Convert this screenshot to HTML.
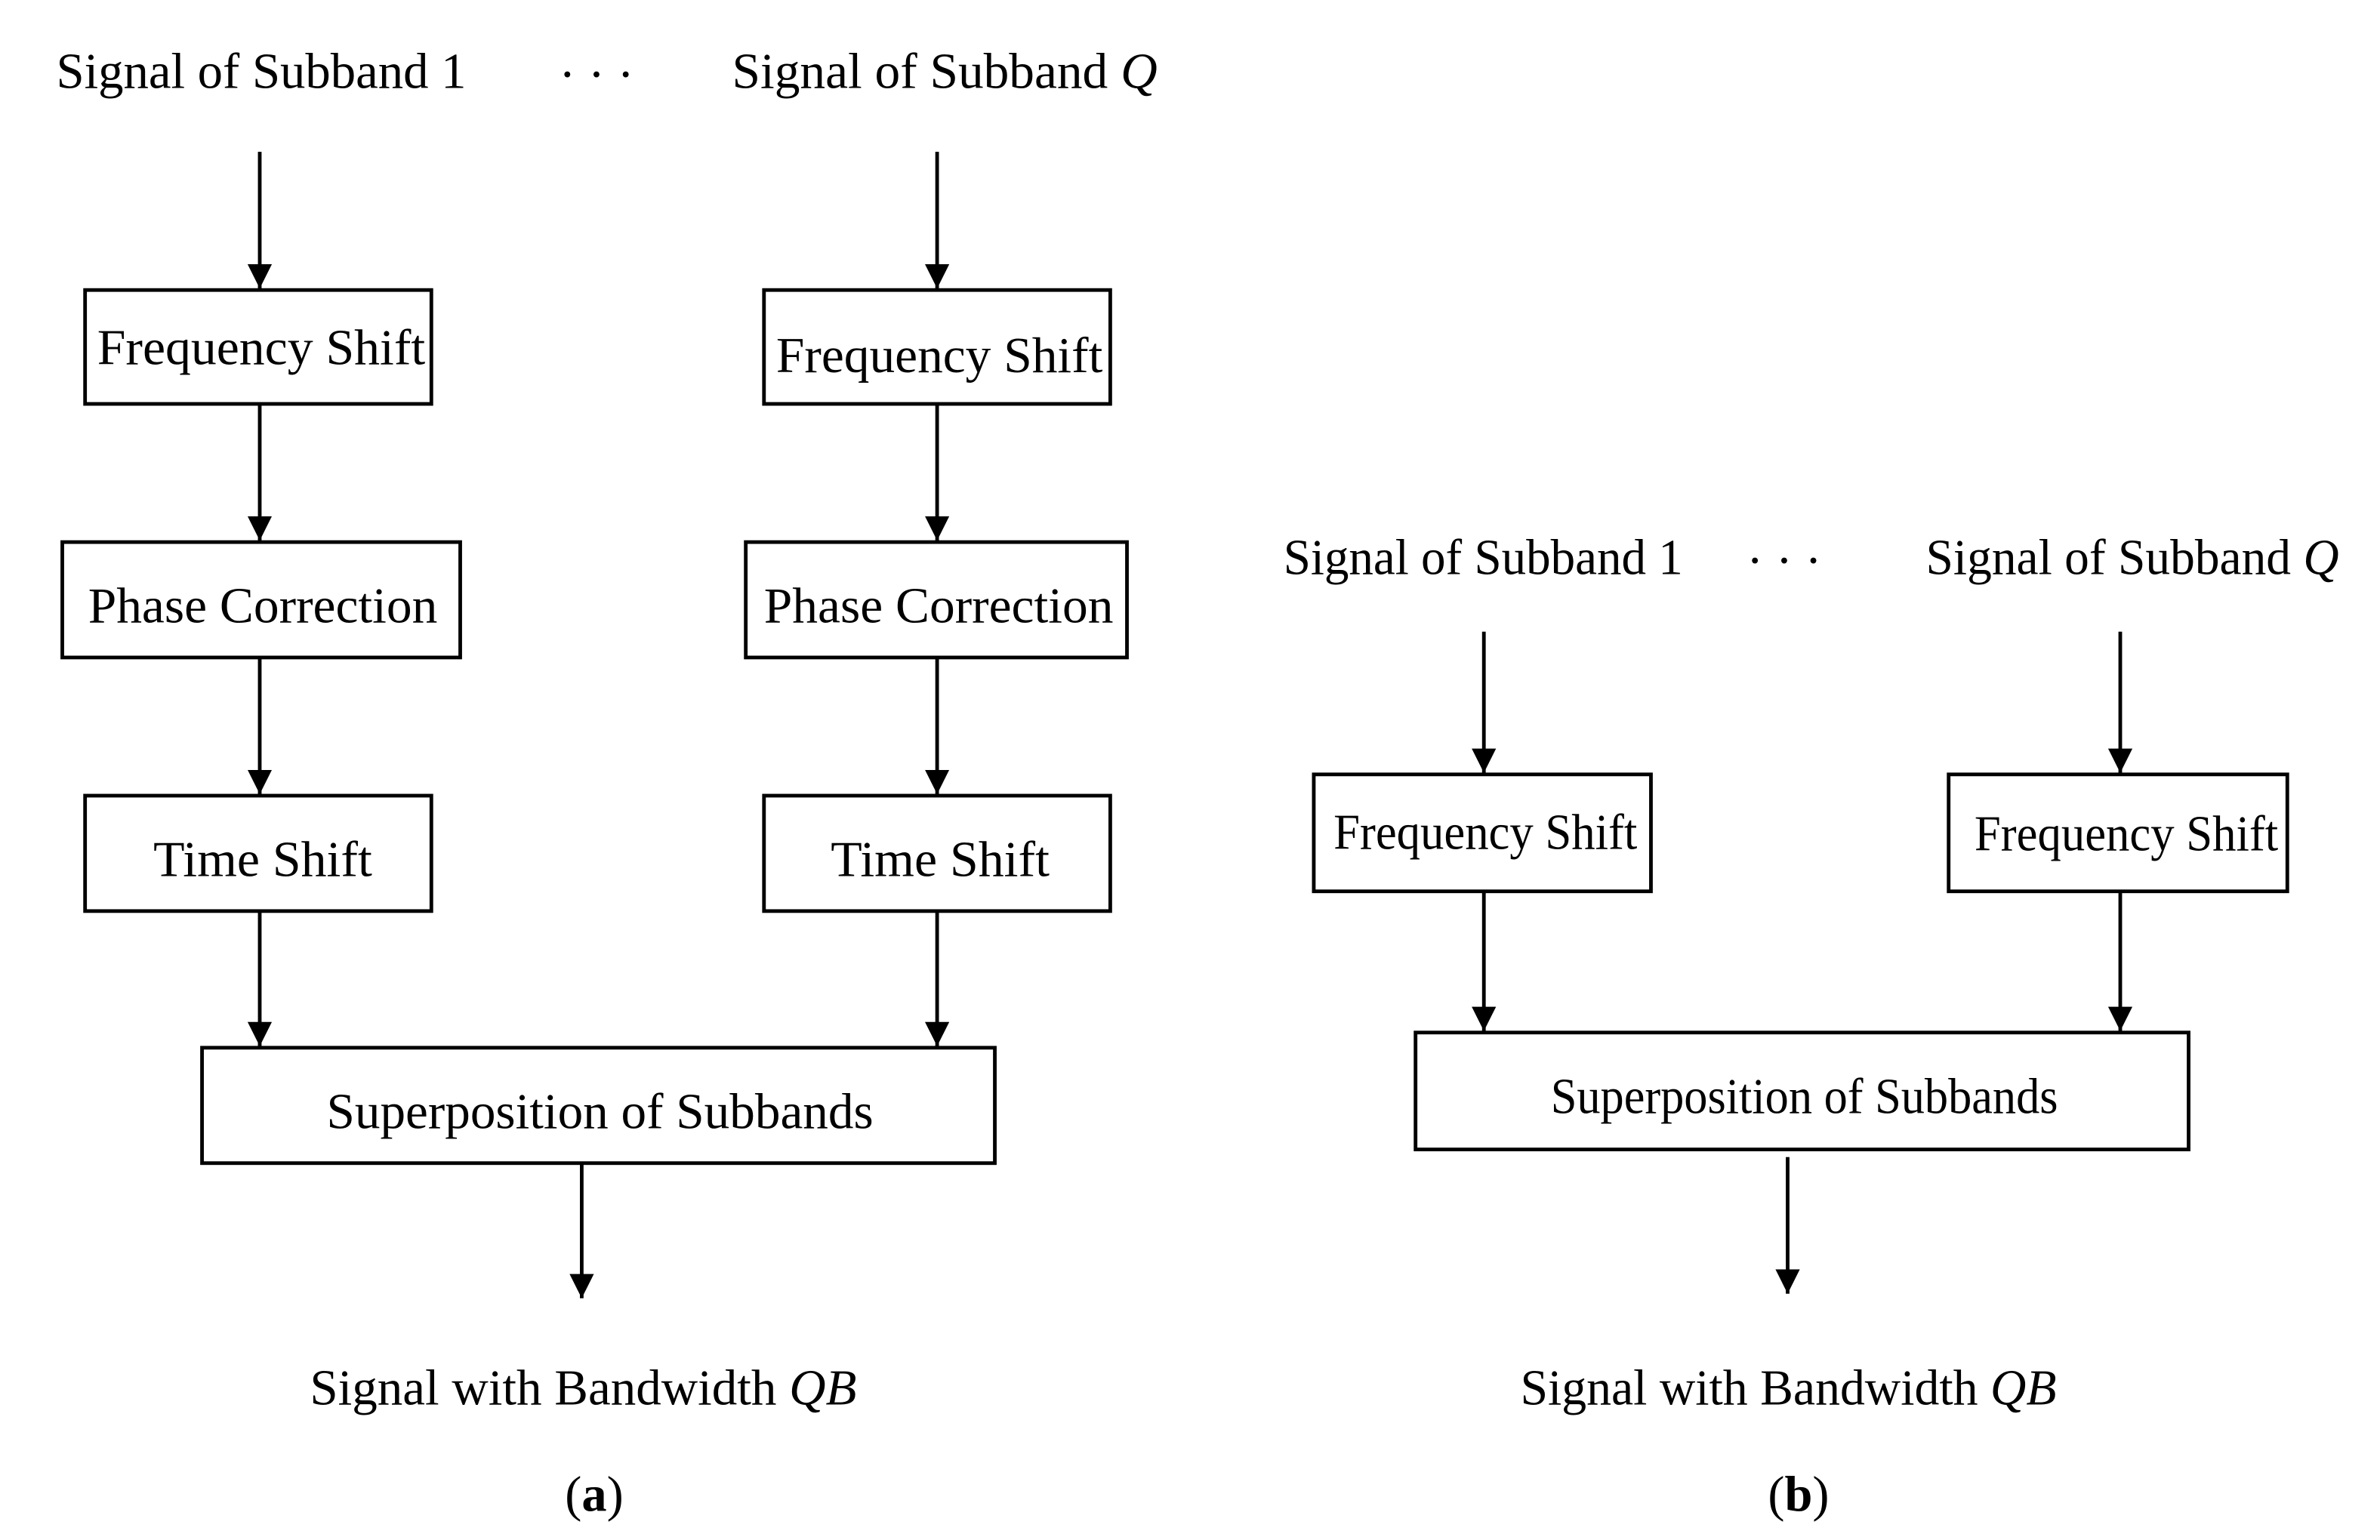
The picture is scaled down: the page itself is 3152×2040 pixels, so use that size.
<!DOCTYPE html>
<html><head><meta charset="utf-8"><style>
html,body{margin:0;padding:0;background:#fff;}
svg{display:block;}
text{font-family:"Liberation Serif",serif;font-size:33px;fill:#000;}
</style></head><body>
<svg width="3152" height="2040" viewBox="0 0 1567 1014.2" xmlns="http://www.w3.org/2000/svg">
<defs><marker id="a" markerWidth="16" markerHeight="18" refX="16" refY="8" orient="auto" markerUnits="userSpaceOnUse">
<path d="M0,0 L16,8 L0,16 Z" fill="#000"/></marker></defs>
<g stroke="#000" stroke-width="2.4" fill="none">
<rect x="56" y="191" width="228" height="75"/>
<rect x="503" y="191" width="228" height="75"/>
<rect x="41" y="357" width="262" height="76"/>
<rect x="491" y="357" width="251" height="76"/>
<rect x="56" y="524" width="228" height="76"/>
<rect x="503" y="524" width="228" height="76"/>
<rect x="133" y="690" width="522" height="76"/>
<g marker-end="url(#a)">
<line x1="171" y1="100" x2="171" y2="190"/>
<line x1="617" y1="100" x2="617" y2="190"/>
<line x1="171" y1="266" x2="171" y2="356"/>
<line x1="617" y1="266" x2="617" y2="356"/>
<line x1="171" y1="433" x2="171" y2="523"/>
<line x1="617" y1="433" x2="617" y2="523"/>
<line x1="171" y1="600" x2="171" y2="689"/>
<line x1="617" y1="600" x2="617" y2="689"/>
<line x1="383" y1="766" x2="383" y2="855"/>
<line x1="977" y1="416" x2="977" y2="509"/>
<line x1="1396" y1="416" x2="1396" y2="509"/>
<line x1="977" y1="587" x2="977" y2="679"/>
<line x1="1396" y1="587" x2="1396" y2="679"/>
<line x1="1177" y1="762" x2="1177" y2="852"/>
</g>
<rect x="865" y="510" width="222" height="77"/>
<rect x="1283" y="510" width="223" height="77"/>
<rect x="932" y="680" width="509" height="77"/>
</g>
<g>
<text x="37" y="58" textLength="270" lengthAdjust="spacingAndGlyphs">Signal of Subband 1</text>
<text x="368" y="60" font-size="30">·  ·  ·</text>
<text x="482" y="58" textLength="280" lengthAdjust="spacingAndGlyphs">Signal of Subband <tspan font-style="italic">Q</tspan></text>
<text x="64" y="240" textLength="216" lengthAdjust="spacingAndGlyphs">Frequency Shift</text>
<text x="511" y="245" textLength="215" lengthAdjust="spacingAndGlyphs">Frequency Shift</text>
<text x="58" y="410" textLength="230" lengthAdjust="spacingAndGlyphs">Phase Correction</text>
<text x="503" y="410" textLength="230" lengthAdjust="spacingAndGlyphs">Phase Correction</text>
<text x="101" y="577" textLength="144" lengthAdjust="spacingAndGlyphs">Time Shift</text>
<text x="547" y="577" textLength="144" lengthAdjust="spacingAndGlyphs">Time Shift</text>
<text x="215" y="743" textLength="360" lengthAdjust="spacingAndGlyphs">Superposition of Subbands</text>
<text x="204" y="925" textLength="360" lengthAdjust="spacingAndGlyphs">Signal with Bandwidth <tspan font-style="italic">QB</tspan></text>
<text x="372" y="995" font-size="36">(<tspan font-weight="bold">a</tspan>)</text>

<text x="845" y="378" textLength="263" lengthAdjust="spacingAndGlyphs">Signal of Subband 1</text>
<text x="1150" y="380" font-size="30">·  ·  ·</text>
<text x="1268" y="378" textLength="272" lengthAdjust="spacingAndGlyphs">Signal of Subband <tspan font-style="italic">Q</tspan></text>
<text x="878" y="559" textLength="200" lengthAdjust="spacingAndGlyphs">Frequency Shift</text>
<text x="1300" y="560" textLength="200" lengthAdjust="spacingAndGlyphs">Frequency Shift</text>
<text x="1021" y="733" textLength="334" lengthAdjust="spacingAndGlyphs">Superposition of Subbands</text>
<text x="1001" y="925" textLength="353" lengthAdjust="spacingAndGlyphs">Signal with Bandwidth <tspan font-style="italic">QB</tspan></text>
<text x="1164" y="995" font-size="36">(<tspan font-weight="bold">b</tspan>)</text>
</g>
</svg>
</body></html>
